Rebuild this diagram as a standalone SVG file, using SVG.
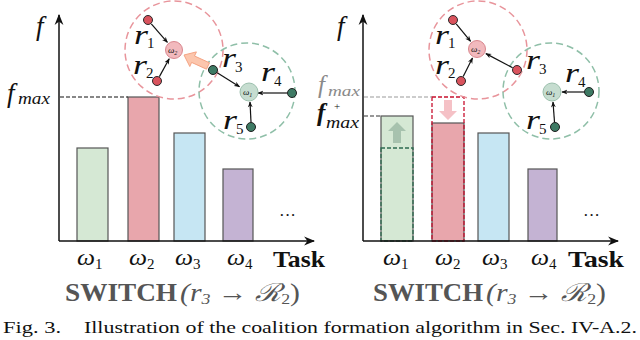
<svg xmlns="http://www.w3.org/2000/svg" width="640" height="340" viewBox="0 0 640 340">
<style>
.m{font-family:"Liberation Serif","DejaVu Serif",serif;font-style:italic;fill:#111}
.n{font-family:"Liberation Serif","DejaVu Serif",serif;fill:#111}
.b{font-family:"Liberation Serif","DejaVu Serif",serif;font-weight:bold;fill:#111}
.cap{font-family:"Liberation Serif","DejaVu Serif",serif;font-size:17px;fill:#111}
.ax{stroke:#111;stroke-width:1.5;fill:none}
.bar{stroke:#555;stroke-width:1.2}
.rc{fill:none;stroke:#e8949b;stroke-width:1.5;stroke-dasharray:7 4}
.gc{fill:none;stroke:#8fbfa8;stroke-width:1.5;stroke-dasharray:7 4}
.rd{fill:#d9535d;stroke:#2a2a2a;stroke-width:1}
.gd{fill:#3e7a64;stroke:#1e1e1e;stroke-width:1}
.ed{stroke:#111;stroke-width:1.2;fill:none}
.sw{font-family:"Liberation Serif","DejaVu Serif",serif;fill:#555}
.rl{font-size:27px}
.rs{font-size:15px}
.wl{font-size:24px}
.ws{font-size:15px}
</style>
<defs>
<marker id="ah" viewBox="0 0 10 10" refX="9" refY="5" markerWidth="11" markerHeight="11" markerUnits="userSpaceOnUse" orient="auto"><path d="M0,1 L10,5 L0,9 L3,5 z" fill="#111"/></marker>
<marker id="sa" viewBox="0 0 10 10" refX="9" refY="5" markerWidth="6" markerHeight="6" markerUnits="userSpaceOnUse" orient="auto"><path d="M0,1 L10,5 L0,9 L3,5 z" fill="#111"/></marker>
</defs>

<!-- LEFT PANEL -->
<g id="left-bars">
<rect class="bar" x="77" y="148" width="31" height="93" fill="#d5e8d4"/>
<rect class="bar" x="128" y="97" width="31" height="144" fill="#e8a6ac"/>
<rect class="bar" x="174" y="133" width="31" height="108" fill="#c6e6f3"/>
<rect class="bar" x="223" y="169" width="30" height="72" fill="#c4b3d3"/>
</g>
<g id="left-axes">
<line x1="60" y1="97" x2="128" y2="97" stroke="#111" stroke-width="1.1" stroke-dasharray="4 2"/>
<line class="ax" x1="59" y1="241" x2="59" y2="15" marker-end="url(#ah)"/>
<line class="ax" x1="59" y1="241" x2="314" y2="241" marker-end="url(#ah)"/>
<text class="m" x="36" y="35" font-size="27">f</text>
<text class="m" x="7" y="102" font-size="27">f</text>
<text class="m" x="18" y="104" font-size="17" textLength="32" lengthAdjust="spacingAndGlyphs">max</text>
<text class="m wl" x="77" y="265" textLength="18" lengthAdjust="spacingAndGlyphs">ω</text><text class="n ws" x="95" y="269">1</text>
<text class="m wl" x="129" y="265" textLength="18" lengthAdjust="spacingAndGlyphs">ω</text><text class="n ws" x="147" y="269">2</text>
<text class="m wl" x="175" y="265" textLength="18" lengthAdjust="spacingAndGlyphs">ω</text><text class="n ws" x="193" y="269">3</text>
<text class="m wl" x="227" y="265" textLength="18" lengthAdjust="spacingAndGlyphs">ω</text><text class="n ws" x="245" y="269">4</text>
<text class="b" x="273" y="267" font-size="23" textLength="52" lengthAdjust="spacingAndGlyphs">Task</text>
<text class="cap" x="279" y="221" font-size="16">···</text>
<text class="sw" x="65" y="301" font-size="25" font-weight="bold" textLength="112" lengthAdjust="spacingAndGlyphs">SWITCH</text>
<text class="sw" x="180" y="301" font-size="25" font-style="italic" textLength="120" lengthAdjust="spacingAndGlyphs">(r<tspan font-size="15" dy="3">3</tspan><tspan dy="-3" font-style="normal"> → </tspan>ℛ<tspan font-size="15" dy="3" font-style="normal">2</tspan><tspan dy="-3" font-style="normal">)</tspan></text>
</g>
<g id="left-coalitions">
<circle class="rc" cx="174" cy="50" r="49"/>
<circle class="gc" cx="247" cy="91" r="48"/>
</g>
<g id="left-edges">
<polygon points="209.5,62.8 194.5,56 196.4,51.9 184,55 189.8,66.5 191.6,62.4 206.5,69.2" fill="#fcc6ad" stroke="#f4a383" stroke-width="1"/>
<line class="ed" x1="151.3" y1="23.8" x2="167.4" y2="42.4" marker-end="url(#sa)"/>
<line class="ed" x1="159.4" y1="76.6" x2="169.2" y2="58.8" marker-end="url(#sa)"/>
<line class="ed" x1="217.2" y1="72.7" x2="239.5" y2="86.7" marker-end="url(#sa)"/>
<line class="ed" x1="287" y1="93" x2="258" y2="93" marker-end="url(#sa)"/>
<line class="ed" x1="251" y1="122" x2="250" y2="102" marker-end="url(#sa)"/>
</g>
<g id="left-w2"><circle cx="174" cy="50" r="8.5" fill="#f2b9bd" stroke="#d9878e" stroke-width="1"/><text class="m" x="168" y="53" font-size="9">ω<tspan font-size="6" dy="2">2</tspan></text></g>
<g id="left-w1"><circle cx="249" cy="92" r="9" fill="#c6ddd0" stroke="#9cc0ad" stroke-width="1"/><text class="m" x="243" y="95" font-size="9">ω<tspan font-size="6" dy="2">1</tspan></text></g>
<g id="left-r1"><circle class="rd" cx="148" cy="20" r="4.5"/><text class="m rl" x="134" y="44" textLength="14" lengthAdjust="spacingAndGlyphs">r</text><text class="n rs" x="147" y="48">1</text></g>
<g id="left-r2"><circle class="rd" cx="157" cy="81" r="4.5"/><text class="m rl" x="133" y="74" textLength="14" lengthAdjust="spacingAndGlyphs">r</text><text class="n rs" x="146" y="78">2</text></g>
<g id="left-r3"><circle class="gd" cx="213" cy="70" r="4.5"/><text class="m rl" x="222" y="67" textLength="14" lengthAdjust="spacingAndGlyphs">r</text><text class="n rs" x="235" y="72">3</text></g>
<g id="left-r4"><circle class="gd" cx="292" cy="93" r="4.5"/><text class="m rl" x="261" y="81" textLength="14" lengthAdjust="spacingAndGlyphs">r</text><text class="n rs" x="274" y="86">4</text></g>
<g id="left-r5"><circle class="gd" cx="251" cy="127" r="4.5"/><text class="m rl" x="223" y="129" textLength="14" lengthAdjust="spacingAndGlyphs">r</text><text class="n rs" x="236" y="134">5</text></g>

<!-- RIGHT PANEL -->
<g id="right-bars">
<rect class="bar" x="381" y="116" width="32" height="125" fill="#d5e8d4"/>
<rect x="381" y="148" width="32" height="93" fill="none" stroke="#2d6a4f" stroke-width="1.3" stroke-dasharray="4 2"/>
<polygon points="397,122 406,131 401,131 401,143 393,143 393,131 388,131" fill="#9fbba7" opacity="0.85"/>
<rect class="bar" x="432" y="123" width="32" height="118" fill="#e8a6ac"/>
<rect x="432" y="97" width="32" height="144" fill="none" stroke="#c8102e" stroke-width="1.3" stroke-dasharray="4 2"/>
<polygon points="448,120 457,111 452,111 452,100 444,100 444,111 439,111" fill="#f5c1c6"/>
<rect class="bar" x="478" y="133" width="31" height="108" fill="#c6e6f3"/>
<rect class="bar" x="528" y="169" width="29" height="72" fill="#c4b3d3"/>
</g>
<g id="right-axes">
<line x1="364" y1="97" x2="432" y2="97" stroke="#999" stroke-width="1.1" stroke-dasharray="4 2"/>
<line x1="364" y1="116" x2="381" y2="116" stroke="#333" stroke-width="1.1" stroke-dasharray="4 2"/>
<line class="ax" x1="363" y1="241" x2="363" y2="15" marker-end="url(#ah)"/>
<line class="ax" x1="363" y1="241" x2="618" y2="241" marker-end="url(#ah)"/>
<text class="m" x="337" y="35" font-size="27">f</text>
<text class="m" x="318" y="93" font-size="25" style="fill:#8a8a8a">f</text>
<text class="m" x="328" y="96" font-size="15" textLength="32" lengthAdjust="spacingAndGlyphs" style="fill:#8a8a8a">max</text>
<text class="m" x="317" y="121" font-size="25" font-weight="bold">f</text>
<text class="n" x="334" y="110" font-size="11">+</text>
<text class="m" x="326" y="128" font-size="16" textLength="33" lengthAdjust="spacingAndGlyphs">max</text>
<text class="m wl" x="383" y="265" textLength="18" lengthAdjust="spacingAndGlyphs">ω</text><text class="n ws" x="401" y="269">1</text>
<text class="m wl" x="435" y="265" textLength="18" lengthAdjust="spacingAndGlyphs">ω</text><text class="n ws" x="453" y="269">2</text>
<text class="m wl" x="482" y="265" textLength="18" lengthAdjust="spacingAndGlyphs">ω</text><text class="n ws" x="500" y="269">3</text>
<text class="m wl" x="531" y="265" textLength="18" lengthAdjust="spacingAndGlyphs">ω</text><text class="n ws" x="549" y="269">4</text>
<text class="b" x="568" y="267" font-size="23" textLength="56" lengthAdjust="spacingAndGlyphs">Task</text>
<text class="cap" x="583" y="221" font-size="16">···</text>
<text class="sw" x="373" y="301" font-size="25" font-weight="bold" textLength="110" lengthAdjust="spacingAndGlyphs">SWITCH</text>
<text class="sw" x="486" y="301" font-size="25" font-style="italic" textLength="120" lengthAdjust="spacingAndGlyphs">(r<tspan font-size="15" dy="3">3</tspan><tspan dy="-3" font-style="normal"> → </tspan>ℛ<tspan font-size="15" dy="3" font-style="normal">2</tspan><tspan dy="-3" font-style="normal">)</tspan></text>
</g>
<g id="right-coalitions">
<circle class="rc" cx="478" cy="50" r="49"/>
<circle class="gc" cx="551" cy="91" r="48"/>
</g>
<g id="right-edges">
<line class="ed" x1="456.2" y1="23.9" x2="470.6" y2="41.3" marker-end="url(#sa)"/>
<line class="ed" x1="463.2" y1="76.5" x2="472.5" y2="58" marker-end="url(#sa)"/>
<line class="ed" x1="512.6" y1="67.7" x2="485.9" y2="53.6" marker-end="url(#sa)"/>
<line class="ed" x1="584" y1="92" x2="562" y2="92" marker-end="url(#sa)"/>
<line class="ed" x1="554.5" y1="122" x2="553" y2="102" marker-end="url(#sa)"/>
</g>
<g id="right-w2"><circle cx="477" cy="49" r="8.5" fill="#f2b9bd" stroke="#d9878e" stroke-width="1"/><text class="m" x="471" y="52" font-size="9">ω<tspan font-size="6" dy="2">2</tspan></text></g>
<g id="right-w1"><circle cx="552" cy="92" r="9" fill="#c6ddd0" stroke="#9cc0ad" stroke-width="1"/><text class="m" x="546" y="95" font-size="9">ω<tspan font-size="6" dy="2">1</tspan></text></g>
<g id="right-r1"><circle class="rd" cx="453" cy="20" r="4.5"/><text class="m rl" x="435" y="44" textLength="14" lengthAdjust="spacingAndGlyphs">r</text><text class="n rs" x="448" y="48">1</text></g>
<g id="right-r2"><circle class="rd" cx="461" cy="81" r="4.5"/><text class="m rl" x="435" y="74" textLength="14" lengthAdjust="spacingAndGlyphs">r</text><text class="n rs" x="448" y="78">2</text></g>
<g id="right-r3"><circle class="rd" cx="517" cy="70" r="4.5"/><text class="m rl" x="526" y="69" textLength="14" lengthAdjust="spacingAndGlyphs">r</text><text class="n rs" x="539" y="74">3</text></g>
<g id="right-r4"><circle class="gd" cx="589" cy="92" r="4.5"/><text class="m rl" x="565" y="82" textLength="14" lengthAdjust="spacingAndGlyphs">r</text><text class="n rs" x="578" y="87">4</text></g>
<g id="right-r5"><circle class="gd" cx="555" cy="127" r="4.5"/><text class="m rl" x="526" y="129" textLength="14" lengthAdjust="spacingAndGlyphs">r</text><text class="n rs" x="539" y="134">5</text></g>

<g id="caption">
<text class="cap" x="3" y="333" textLength="58" lengthAdjust="spacingAndGlyphs">Fig. 3.</text>
<text class="cap" x="84" y="333" textLength="553" lengthAdjust="spacingAndGlyphs">Illustration of the coalition formation algorithm in Sec. IV-A.2.</text>
</g>
</svg>
